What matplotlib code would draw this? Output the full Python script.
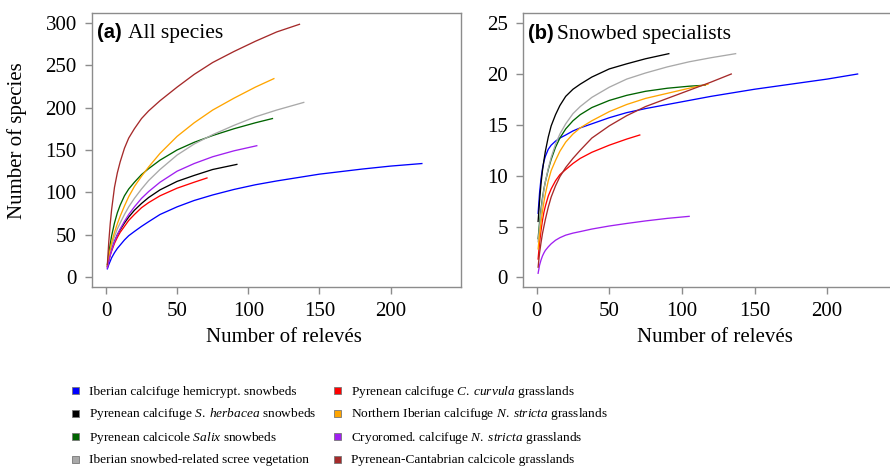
import matplotlib
matplotlib.use("Agg")
import matplotlib.pyplot as plt
from matplotlib.patches import Rectangle

plt.rcParams['font.family'] = ['Liberation Serif', 'DejaVu Serif']
plt.rcParams['mathtext.fontset'] = 'custom'
plt.rcParams['mathtext.rm'] = 'Liberation Serif'
plt.rcParams['mathtext.it'] = 'Liberation Serif:italic'

# vegetation types (legend order) and colours
groups = [
    "Iberian calcifuge hemicrypt. snowbeds",
    r"Pyrenean calcifuge $\mathit{S.\;herbacea}$ snowbeds",
    r"Pyrenean calcicole $\mathit{Salix}$ snowbeds",
    "Iberian snowbed-related scree vegetation",
    r"Pyrenean calcifuge $\mathit{C.\;curvula}$ grasslands",
    r"Northern Iberian calcifuge $\mathit{N.\;stricta}$ grasslands",
    r"Cryoromed. calcifuge $\mathit{N.\;stricta}$ grasslands",
    "Pyrenean-Cantabrian calcicole grasslands",
]
colors = ["#0000FF", "#000000", "#006400", "#A9A9A9",
          "#FF0000", "#FFA500", "#A020F0", "#A52A2A"]

# (a) all species - rarefaction curves
x_blue_a = [1, 2, 3, 4, 6, 8, 10, 13, 16, 20, 25, 30, 38, 50, 62, 75, 90, 105, 120, 150, 180, 200, 222]
y_blue_a = [10, 15, 19, 23, 29, 34, 38, 44, 49, 54, 60, 65.5, 74, 83, 90.5, 97, 103.5, 109, 113.5, 121.5, 127.5, 131, 134]
x_black_a = [1, 2, 3, 4, 6, 8, 10, 13, 16, 20, 25, 30, 38, 50, 62, 75, 92]
y_black_a = [13, 21, 28, 33, 42, 50, 56, 64, 71, 79, 87, 94, 103, 113, 120, 127, 133]
x_green_a = [1, 2, 3, 4, 6, 8, 10, 13, 16, 20, 25, 30, 38, 50, 62, 75, 90, 105, 117]
y_green_a = [15, 28, 39, 49, 64, 76, 85, 96, 104, 112, 121, 128, 138, 150, 159, 167, 175, 182, 187]
x_gray_a = [1, 2, 3, 4, 6, 8, 10, 13, 16, 20, 25, 30, 38, 50, 62, 75, 90, 105, 120, 139]
y_gray_a = [13, 22, 30, 37, 48, 57, 64, 74, 83, 93, 104, 114, 127, 144, 157, 168, 179, 189, 197, 206]
x_red_a = [1, 2, 3, 4, 6, 8, 10, 13, 16, 20, 25, 30, 38, 50, 62, 71]
y_red_a = [12, 20, 26, 31, 40, 47, 53, 60, 67, 74, 82, 88, 96, 105, 112, 117]
x_orange_a = [1, 2, 3, 4, 6, 8, 10, 13, 16, 20, 25, 30, 38, 50, 62, 75, 90, 105, 118]
y_orange_a = [14, 24, 33, 41, 53, 63, 72, 84, 95, 107, 119, 130, 146, 166, 182, 197, 211, 224, 234]
x_purple_a = [1, 2, 3, 4, 6, 8, 10, 13, 16, 20, 25, 30, 38, 50, 62, 75, 90, 106]
y_purple_a = [11, 19, 26, 32, 42, 50, 57, 66, 74, 83, 93, 101, 112, 125, 134, 142, 149, 155]
x_brown_a = [1, 2, 3, 4, 6, 8, 10, 13, 16, 20, 25, 30, 38, 50, 62, 75, 90, 105, 120, 136]
y_brown_a = [15, 42, 63, 80, 106, 123, 136, 152, 164, 175, 187, 196, 208, 224, 239, 253, 266, 278, 289, 298]

# (b) snowbed specialists
x_blue_b = [1, 2, 3, 4, 5, 6, 8, 10, 13, 16, 20, 25, 30, 38, 50, 62, 75, 90, 105, 120, 150, 180, 200, 221]
y_blue_b = [6.3, 8.3, 9.7, 10.7, 11.4, 11.9, 12.6, 13.0, 13.4, 13.7, 14.0, 14.4, 14.7, 15.1, 15.7, 16.2,
            16.6, 17.0, 17.4, 17.8, 18.5, 19.1, 19.5, 20.0]
x_black_b = [1, 2, 3, 4, 5, 6, 8, 10, 13, 16, 20, 25, 30, 38, 50, 62, 75, 91]
y_black_b = [5.5, 7.5, 9.2, 10.5, 11.5, 12.4, 13.8, 14.9, 16.0, 16.9, 17.8, 18.5, 19.0, 19.7, 20.5, 21.0, 21.5, 22.0]
x_green_b = [1, 2, 3, 4, 5, 6, 8, 10, 13, 16, 20, 25, 30, 38, 50, 62, 75, 90, 105, 116]
y_green_b = [3.8, 5.4, 6.7, 7.8, 8.7, 9.4, 10.6, 11.6, 12.8, 13.7, 14.6, 15.4, 16.0, 16.7, 17.4, 17.9,
             18.3, 18.6, 18.8, 18.9]
x_gray_b = [1, 2, 3, 4, 5, 6, 8, 10, 13, 16, 20, 25, 30, 38, 50, 62, 75, 90, 105, 120, 137]
y_gray_b = [3.5, 5.0, 6.4, 7.6, 8.6, 9.4, 10.7, 11.8, 13.1, 14.1, 15.1, 16.1, 16.8, 17.7, 18.7, 19.5,
            20.1, 20.7, 21.2, 21.6, 22.0]
x_red_b = [1, 2, 3, 4, 5, 6, 8, 10, 13, 16, 20, 25, 30, 38, 50, 62, 71]
y_red_b = [1.8, 3.4, 4.6, 5.6, 6.4, 7.0, 8.0, 8.7, 9.5, 10.1, 10.6, 11.2, 11.7, 12.3, 13.0, 13.6, 14.0]
x_orange_b = [1, 2, 3, 4, 5, 6, 8, 10, 13, 16, 20, 25, 30, 38, 50, 62, 75, 90, 105, 118]
y_orange_b = [2.8, 4.2, 5.4, 6.5, 7.4, 8.2, 9.5, 10.5, 11.5, 12.4, 13.3, 14.1, 14.7, 15.4, 16.3, 17.0,
              17.6, 18.1, 18.6, 19.0]
x_purple_b = [1, 2, 3, 4, 5, 6, 8, 10, 13, 16, 20, 25, 30, 38, 50, 62, 75, 90, 105]
y_purple_b = [0.4, 1.2, 1.7, 2.1, 2.4, 2.65, 3.0, 3.3, 3.65, 3.9, 4.15, 4.35, 4.5, 4.75, 5.05, 5.3,
              5.55, 5.8, 6.0]
x_brown_b = [1, 2, 3, 4, 5, 6, 8, 10, 13, 16, 20, 25, 30, 38, 50, 62, 75, 90, 105, 120, 134]
y_brown_b = [1.0, 2.4, 3.4, 4.3, 5.0, 5.7, 6.9, 7.9, 9.0, 9.9, 10.8, 11.7, 12.5, 13.7, 14.9, 15.9,
             16.8, 17.6, 18.4, 19.2, 20.0]

curves_a = [(x_blue_a, y_blue_a), (x_black_a, y_black_a), (x_green_a, y_green_a),
            (x_gray_a, y_gray_a), (x_red_a, y_red_a), (x_orange_a, y_orange_a),
            (x_purple_a, y_purple_a), (x_brown_a, y_brown_a)]
curves_b = [(x_blue_b, y_blue_b), (x_black_b, y_black_b), (x_green_b, y_green_b),
            (x_gray_b, y_gray_b), (x_red_b, y_red_b), (x_orange_b, y_orange_b),
            (x_purple_b, y_purple_b), (x_brown_b, y_brown_b)]

W, H = 890, 468
fig = plt.figure(figsize=(W / 100, H / 100), dpi=100)


def px_axes(l, t, r, b):
    return fig.add_axes([l / W, 1 - b / H, (r - l) / W, (b - t) / H])


frame = "#8C8C8C"
ax_a = px_axes(92, 13, 461, 287)
ax_b = px_axes(523, 13, 907, 287)

for ax, curves in [(ax_a, curves_a), (ax_b, curves_b)]:
    for (xs, ys), c in zip(curves, colors):
        ax.plot(xs, ys, color=c, lw=0.95)
    for s in ax.spines.values():
        s.set_color(frame)
        s.set_linewidth(1.0)
    ax.tick_params(colors=frame, labelcolor="black", labelsize=15,
                   length=5, width=1.0, pad=6)
    ax.set_xticks([0, 50, 100, 150, 200])

ax_a.set_xlim(-9.8, 249.5)
ax_a.set_ylim(-11.4, 311.3)
ax_a.set_yticks([0, 50, 100, 150, 200, 250, 300])
ax_b.set_xlim(-9.4, 255)
ax_b.set_ylim(-0.95, 26.0)
ax_b.set_yticks([0, 5, 10, 15, 20, 25])

# panel titles
fig.text(97 / W, 1 - 38 / H, "(a)", family="Liberation Sans", weight="bold",
         fontsize=14.5, va="baseline")
fig.text(128 / W, 1 - 38 / H, "All species", fontsize=15.5, va="baseline")
fig.text(528 / W, 1 - 39 / H, "(b)", family="Liberation Sans", weight="bold",
         fontsize=14.5, va="baseline")
fig.text(557 / W, 1 - 39 / H, "Snowbed specialists", fontsize=15.5, va="baseline")

# axis labels
fig.text(284 / W, 1 - 338 / H, "Number of relevés", fontsize=15, ha="center", va="center")
fig.text(715 / W, 1 - 338 / H, "Number of relevés", fontsize=15, ha="center", va="center")
fig.text(17 / W, 1 - 141 / H, "Number of species", fontsize=15, rotation=90,
         ha="center", va="center")

# legend below the panels: two columns of four, drawn by hand so rows stay even
col_x = [75, 337]      # marker centres (px)
row_y0, row_dy = 390, 23
box = 7
for i, (lab, c) in enumerate(zip(groups, colors)):
    col, row = divmod(i, 4)
    cx, cy = col_x[col], row_y0 + row * row_dy
    fig.patches.append(Rectangle(((cx - box / 2) / W, 1 - (cy + box / 2) / H),
                                 box / W, box / H, transform=fig.transFigure,
                                 facecolor=c, edgecolor="#777777", linewidth=0.6))
    fig.text((cx + 14) / W, 1 - (cy + 4.5) / H, lab, fontsize=9.6, va="baseline")

fig.savefig("out.png", dpi=100)
